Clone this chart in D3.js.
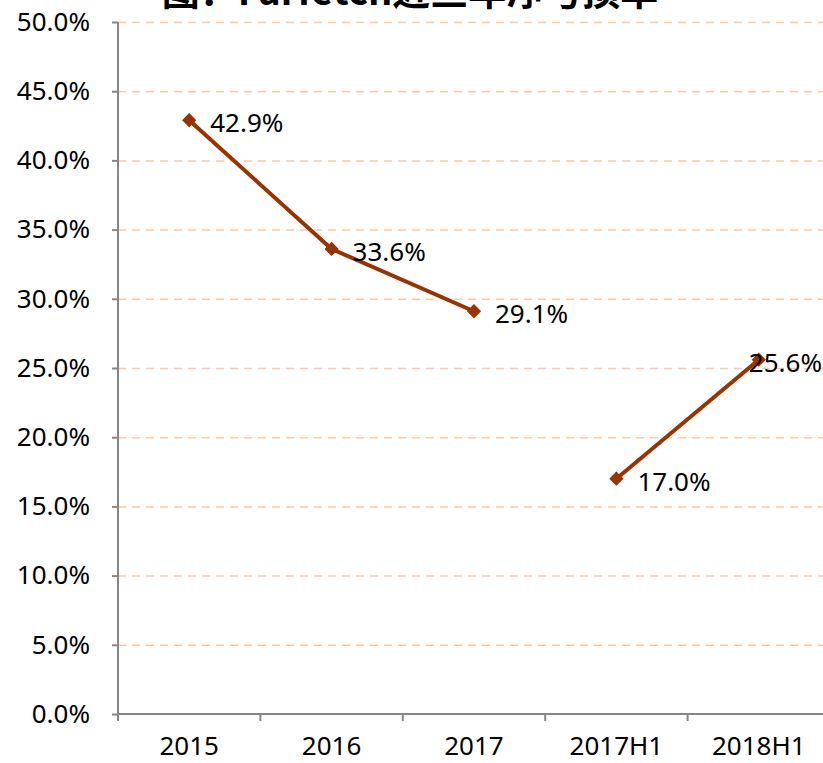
<!DOCTYPE html>
<html>
<head>
<meta charset="utf-8">
<script src="https://cdn.jsdelivr.net/npm/d3@7"></script>
<style>
  html, body { margin: 0; padding: 0; background: #fff; overflow: hidden; }
  svg { display: block; font-family: 'Noto Sans', 'Noto Sans CJK SC', sans-serif; }
</style>
</head>
<body>
<div id="chart"></div>
<script>
const title = '图：Farfetch近三年净亏损率'
const categories = ['2015', '2016', '2017', '2017H1', '2018H1']
// two separate segments: full years, then half years
const seriesYears = [
  { cat: '2015', value: 42.9 },
  { cat: '2016', value: 33.6 },
  { cat: '2017', value: 29.1 },
]
const seriesHalf = [
  { cat: '2017H1', value: 17.0 },
  { cat: '2018H1', value: 25.6 },
]
const yTicks = [0, 5, 10, 15, 20, 25, 30, 35, 40, 45, 50]

const W = 823, H = 763
const margin = { top: 22, right: -7, bottom: 49, left: 118 }
const LINE = '#993300'
const AXIS = '#868686'

const svg = d3.select('#chart').append('svg').attr('width', W).attr('height', H)

const x = d3.scaleBand().domain(categories).range([margin.left, W - margin.right])
const y = d3.scaleLinear().domain([0, 50]).range([H - margin.bottom, margin.top])

// Gridlines
svg.append('g').selectAll('line').data(yTicks.filter(d => d > 0)).join('line')
  .attr('x1', margin.left).attr('x2', W)
  .attr('y1', d => y(d) + 0.5).attr('y2', d => y(d) + 0.5)
  .attr('stroke', '#f9c9a8').attr('stroke-width', 1.5).attr('stroke-dasharray', '8,6')

// Y axis
const yAxis = svg.append('g').attr('transform', `translate(${margin.left},0)`)
  .call(d3.axisLeft(y).tickValues(yTicks).tickSize(6).tickPadding(22).tickFormat(d => d.toFixed(1) + '%'))
yAxis.selectAll('path, line').attr('stroke', AXIS).attr('stroke-width', 2)
yAxis.select('.domain').attr('d', `M0,${y(50)}V${y(0)}`)
yAxis.selectAll('text').attr('font-size', 26).attr('fill', '#000').attr('font-family', 'Noto Sans')

// X axis
const xAxis = svg.append('g').attr('transform', `translate(0,${y(0)})`)
  .call(d3.axisBottom(x).tickSize(0).tickPadding(23))
xAxis.select('.domain').attr('stroke', AXIS).attr('stroke-width', 2).attr('d', `M${margin.left},0H${W}`)
xAxis.selectAll('text').attr('font-size', 26).attr('fill', '#000').attr('font-family', 'Noto Sans')
svg.append('g').selectAll('line').data(categories).join('line')
  .attr('x1', d => x(d)).attr('x2', d => x(d))
  .attr('y1', y(0)).attr('y2', y(0) + 7)
  .attr('stroke', AXIS).attr('stroke-width', 2)

// Lines
const line = d3.line().x(d => x(d.cat) + x.bandwidth() / 2).y(d => y(d.value))
const diamond = d3.symbol().type(d3.symbolDiamond2).size(130)

;[seriesYears, seriesHalf].forEach(series => {
  svg.append('path').datum(series)
    .attr('d', line).attr('fill', 'none')
    .attr('stroke', LINE).attr('stroke-width', 4)

  svg.append('g').selectAll('path').data(series).join('path')
    .attr('d', diamond)
    .attr('transform', d => `translate(${x(d.cat) + x.bandwidth() / 2},${y(d.value)})`)
    .attr('fill', LINE)

  svg.append('g').selectAll('text').data(series).join('text')
    .attr('x', d => x(d.cat) + x.bandwidth() / 2 + 21)
    .attr('y', d => y(d.value) + 12)
    .attr('font-size', 26).attr('fill', '#000')
    .text(d => d.value.toFixed(1) + '%')
    .each(function () {
      const bb = this.getBBox()
      if (bb.x + bb.width > W - 1) d3.select(this).attr('x', W - 1 - bb.width)
    })
})

// Title (cut off at the top, as in the source)
svg.append('text')
  .attr('x', 410).attr('y', 5)
  .attr('text-anchor', 'middle')
  .attr('font-size', 38).attr('font-weight', 'bold')
  .attr('font-family', "'Noto Sans CJK SC', sans-serif")
  .attr('fill', '#000')
  .text(title)
</script>
</body>
</html>
